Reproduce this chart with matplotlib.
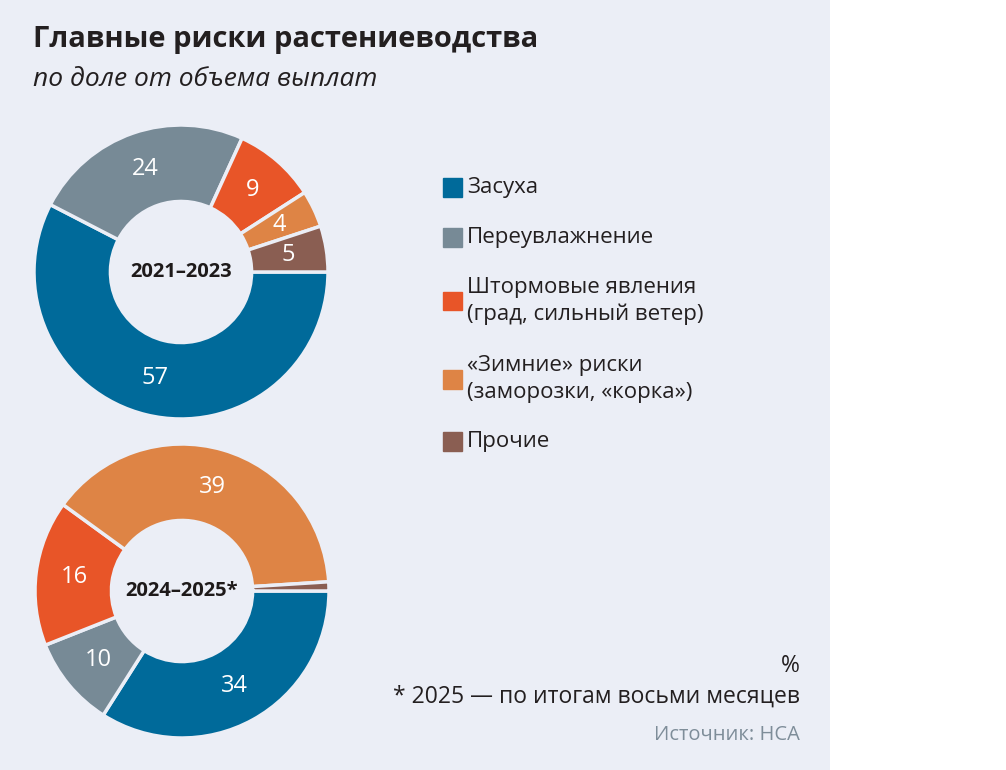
import matplotlib.pyplot as plt
import numpy as np

# data
categories = ['Засуха', 'Переувлажнение', 'Штормовые явления\n(град, сильный ветер)',
              '«Зимние» риски\n(заморозки, «корка»)', 'Прочие']
colors = ['#006A9A', '#778A96', '#E85528', '#DE8445', '#8A5E52']
vals_2123 = [57, 24, 9, 4, 5]
vals_2425 = [34, 10, 16, 39, 1]
labels_2123 = ['57', '24', '9', '4', '5']
labels_2425 = ['34', '10', '16', '39', '']

W, H = 1006, 770
bg = '#EBEEF6'
plt.rcParams['font.family'] = ['Open Sans', 'DejaVu Sans']

fig = plt.figure(figsize=(W / 100, H / 100), dpi=100)
fig.patch.set_facecolor('white')
panel = fig.add_axes([0, 0, 830 / W, 1])
panel.set_facecolor(bg)
panel.set_xticks([])
panel.set_yticks([])
for s in panel.spines.values():
    s.set_visible(False)


def donut(cx, cy, r, vals, labels, center):
    half = r * 1.02
    ax = fig.add_axes([(cx - half) / W, 1 - (cy + half) / H, 2 * half / W, 2 * half / H])
    ax.set_facecolor('none')
    wedges, _ = ax.pie(vals, colors=colors, startangle=0, counterclock=False, radius=1,
                       wedgeprops=dict(width=0.52, edgecolor=bg, linewidth=2.5))
    for w, lab in zip(wedges, labels):
        if not lab:
            continue
        a = np.deg2rad((w.theta1 + w.theta2) / 2)
        ax.text(0.74 * np.cos(a), 0.74 * np.sin(a), lab, color='white', fontsize=17,
                ha='center', va='center')
    ax.text(0, 0, center, fontsize=14.5, fontweight='bold', color='#1E1A1A',
            ha='center', va='center')
    ax.set_xlim(-1.02, 1.02)
    ax.set_ylim(-1.02, 1.02)
    ax.set_aspect('equal')
    ax.axis('off')


donut(181, 272, 147, vals_2123, labels_2123, '2021–2023')
donut(182, 591, 147, vals_2425, labels_2425, '2024–2025*')

# titles
fig.text(33 / W, 1 - 40 / H, 'Главные риски растениеводства', fontsize=21, fontweight='bold',
         color='#231F20', va='center', ha='left')
fig.text(33 / W, 1 - 80 / H, 'по доле от объема выплат', fontsize=19, fontstyle='italic',
         color='#231F20', va='center', ha='left')

# legend
leg_y = [187, 237, 301, 379, 442]
for c, lab, y in zip(colors, categories, leg_y):
    fig.patches.append(plt.Rectangle((443 / W, 1 - (y + 9.5) / H), 19 / W, 19 / H,
                                     transform=fig.transFigure, color=c))
    fig.text(467 / W, 1 - y / H, lab, fontsize=16, color='#231F20', va='center', ha='left',
             linespacing=1.35)

# notes
fig.text(800 / W, 1 - 666 / H, '%', fontsize=16.5, color='#231F20', ha='right', va='center')
fig.text(800 / W, 1 - 697 / H, '* 2025 — по итогам восьми месяцев', fontsize=16.5,
         color='#231F20', ha='right', va='center')
fig.text(800 / W, 1 - 735 / H, 'Источник: НСА', fontsize=14.5, color='#7E8D99',
         ha='right', va='center')

fig.savefig('out.png', dpi=100, facecolor='white')
